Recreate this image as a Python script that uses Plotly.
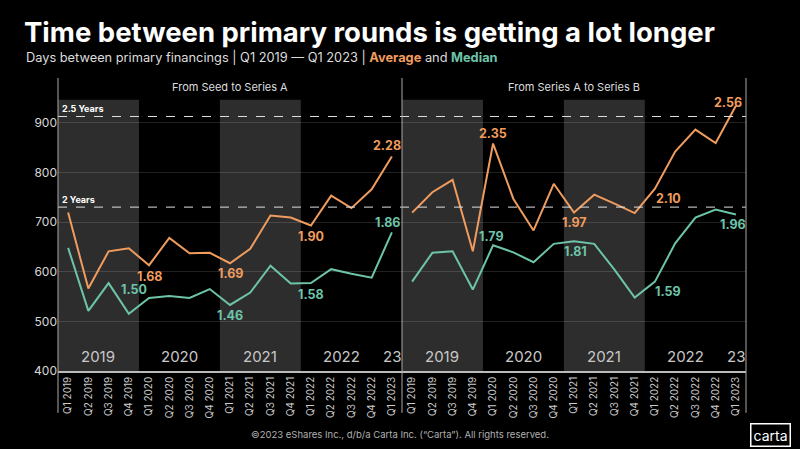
"""Days between primary financings, seed->A and A->B, average vs median"""

import plotly.graph_objects as go
from plotly.subplots import make_subplots

quarters = [
    "Q1 2019", "Q2 2019", "Q3 2019", "Q4 2019",
    "Q1 2020", "Q2 2020", "Q3 2020", "Q4 2020",
    "Q1 2021", "Q2 2021", "Q3 2021", "Q4 2021",
    "Q1 2022", "Q2 2022", "Q3 2022", "Q4 2022",
    "Q1 2023",
]
year_labels = {"2019": "2019", "2020": "2020", "2021": "2021", "2022": "2022", "2023": "23"}
shaded_years = ["2019", "2021"]

# days between rounds
seed_avg = [719, 566, 641, 647, 613, 668, 637, 638, 617, 646, 713, 709, 693, 753, 728, 766, 832]
seed_med = [648, 521, 577, 515, 547, 551, 547, 565, 533, 558, 612, 576, 577, 605, 596, 588, 679]
ab_avg = [719, 760, 785, 641, 858, 747, 683, 777, 719, 755, 737, 718, 767, 842, 886, 859, 934]
ab_med = [580, 638, 641, 564, 653, 639, 619, 656, 661, 656, 604, 548, 580, 657, 709, 725, 715]

panels = ["From Seed to Series A", "From Series A to Series B"]
thresholds = [("2 Years", 730), ("2.5 Years", 912.5)]

# quarters that get a "years" label, per series
seed_avg_lbl = [4, 8, 12, 16]
seed_med_lbl = [4, 8, 12, 16]
ab_avg_lbl = [4, 8, 12, 16]
ab_med_lbl = [4, 8, 12, 16]

ORANGE = "#F09C5E"
GREEN = "#6DC4A9"
FONT = "Inter"

# label offsets in px (dx, dy) -- styling only
seed_avg_off = [(0, -11), (0, -10), (0, -11), (-5, 11)]
seed_med_off = [(-15, 9), (0, -11), (0, -11), (-4, 10)]
ab_avg_off = [(0, 10), (0, -10), (14, -10), (-8, 3)]
ab_med_off = [(-2, 9), (1, -10), (13, -10), (-3, -10)]

fig = make_subplots(rows=1, cols=2, shared_yaxes=True, horizontal_spacing=0)

x = list(range(len(quarters)))
series = [
    (1, seed_avg, ORANGE, seed_avg_lbl, seed_avg_off),
    (1, seed_med, GREEN, seed_med_lbl, seed_med_off),
    (2, ab_avg, ORANGE, ab_avg_lbl, ab_avg_off),
    (2, ab_med, GREEN, ab_med_lbl, ab_med_off),
]
for col, vals, color, lbl, off in series:
    fig.add_trace(
        go.Scatter(x=x, y=vals, mode="lines", line=dict(color=color, width=2),
                   showlegend=False, hoverinfo="skip"),
        row=1, col=col,
    )
    xr = "x" if col == 1 else "x2"
    for i, (dx, dy) in zip(lbl, off):
        fig.add_annotation(
            x=i, y=vals[i], xref=xr, yref="y", text=f"{vals[i] / 365:.2f}",
            showarrow=False, xshift=dx, yshift=dy,
            font=dict(family=FONT, size=12.5, color=color, weight="bold"),
        )

years = [q.split()[1] for q in quarters]
for col in (1, 2):
    xr = "x" if col == 1 else "x2"
    # shaded years
    for yr in shaded_years:
        idx = [i for i, y in enumerate(years) if y == yr]
        fig.add_shape(type="rect", xref=xr, yref="y", x0=idx[0] - 0.5, x1=idx[-1] + 0.5,
                      y0=400, y1=946, fillcolor="#2d2d2d", line_width=0, layer="below")
    # year labels
    for yr, txt in year_labels.items():
        idx = [i for i, y in enumerate(years) if y == yr]
        fig.add_annotation(x=sum(idx) / len(idx), y=400, xref=xr, yref="y", text=txt,
                           showarrow=False, yanchor="bottom", yshift=3,
                           font=dict(family=FONT, size=15, color="#c8c8c8"))
    fig.add_annotation(x=0.5, y=0.969, xref=f"{xr} domain", yref="paper", text=panels[col - 1],
                       showarrow=False, xanchor="center", yanchor="middle",
                       font=dict(family=FONT, size=11, color="#dddddd"))

# threshold lines
for name, val in thresholds:
    fig.add_shape(type="line", xref="paper", yref="y", x0=0, x1=1, y0=val, y1=val,
                  line=dict(color="#e0e0e0", width=1, dash="dash"))
    fig.add_annotation(x=0, y=val, xref="paper", yref="y", text=f"<b>{name}</b>",
                       showarrow=False, xanchor="left", yanchor="bottom", xshift=2,
                       font=dict(family=FONT, size=9, color="#ffffff"))

# panel borders
for xp in (0, 0.5, 1):
    fig.add_shape(type="line", xref="paper", yref="paper", x0=xp, x1=xp, y0=-0.143, y1=1,
                  line=dict(color="#aaaaaa", width=1))

axis_x = dict(tickvals=x, ticktext=quarters, tickangle=-90, range=[-0.5, len(quarters) - 0.5],
              showgrid=False, zeroline=False, showline=True, linecolor="#bbbbbb", linewidth=1.5,
              ticks="", tickfont=dict(family=FONT, size=10, color="#cccccc"))
fig.update_xaxes(**axis_x)
fig.update_yaxes(range=[400, 990], tickvals=[400, 500, 600, 700, 800, 900], showgrid=True,
                 gridcolor="rgba(255,255,255,0.13)", zeroline=False, ticks="",
                 tickfont=dict(family=FONT, size=12, color="#d8d8d8"))
fig.update_yaxes(showticklabels=False, row=1, col=2)

fig.update_layout(
    width=800, height=449,
    paper_bgcolor="#000000", plot_bgcolor="#000000",
    margin=dict(l=58, r=54, t=78, b=78),
    title=dict(text="<b>Time between primary rounds is getting a lot longer</b>",
               x=0.03, xanchor="left", y=0.928, yanchor="middle",
               font=dict(family=FONT, size=27.5, color="#ffffff")),
)
fig.add_annotation(
    x=-0.049, y=1.073, xref="paper", yref="paper", xanchor="left", yanchor="middle",
    showarrow=False,
    text=(f"Days between primary financings | Q1 2019 — Q1 2023 | "
          f"<b><span style='color:{ORANGE}'>Average</span></b> and "
          f"<b><span style='color:{GREEN}'>Median</span></b>"),
    font=dict(family=FONT, size=12.8, color="#dddddd"),
)
fig.add_annotation(
    x=0.5, y=-0.216, xref="paper", yref="paper", showarrow=False, xshift=-2,
    xanchor="center", yanchor="middle",
    text="©2023 eShares Inc., d/b/a Carta Inc. (“Carta”). All rights reserved.",
    font=dict(family=FONT, size=9.5, color="#b0b0b0"),
)
fig.add_annotation(
    x=1.0356, y=-0.218, xref="paper", yref="paper", showarrow=False, text="carta",
    xanchor="center", yanchor="middle",
    bordercolor="#ffffff", borderwidth=1.5, borderpad=2,
    font=dict(family=FONT, size=14, color="#ffffff"),
)

fig.write_html("out.html", config={"displayModeBar": False},
               post_script="document.body.style.margin='0';")
